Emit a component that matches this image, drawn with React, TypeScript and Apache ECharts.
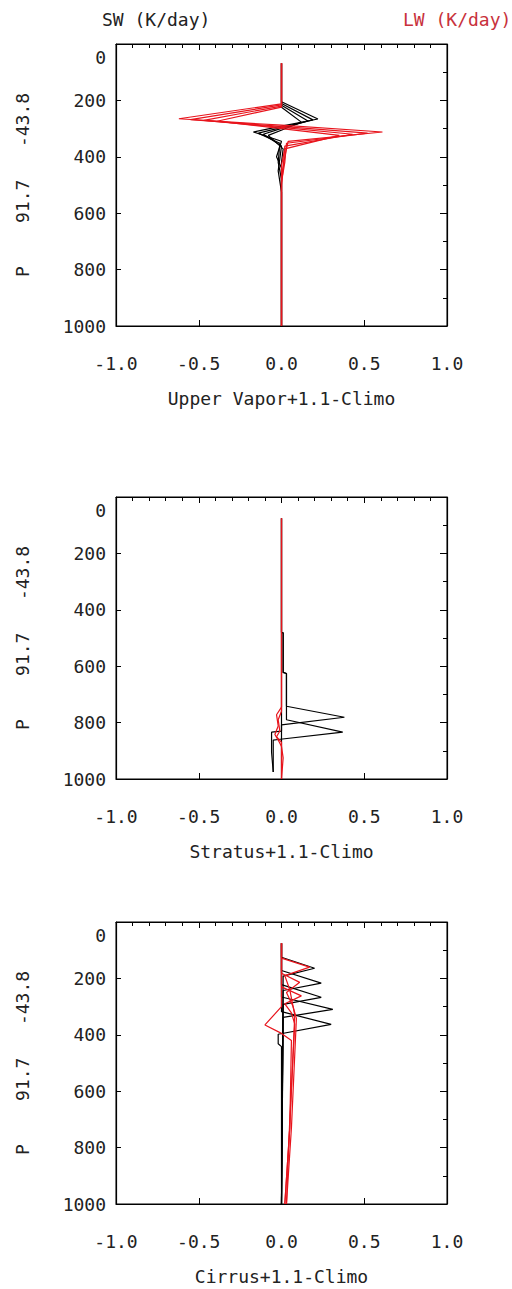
import React, { useEffect, useRef } from "react";
import * as echarts from "echarts";

// ---------- data ----------
const xTicks = [-1.0, -0.5, 0.0, 0.5, 1.0];
const pTicks = [0, 200, 400, 600, 800, 1000];
const panelNames = ["Upper Vapor+1.1-Climo", "Stratus+1.1-Climo", "Cirrus+1.1-Climo"];
const yName = "P    91.7   -43.8";

// Panel 1: Upper Vapor  — [heating rate K/day, pressure hPa]
const vaporSW: number[][][] = [
  [[0, 68], [0, 205], [0.22, 266], [0.0, 291], [-0.17, 312], [0.0, 345], [-0.03, 400], [0, 440], [0, 1000]],
  [[0, 68], [0, 211], [0.19, 269], [0.01, 295], [-0.14, 316], [-0.01, 352], [-0.02, 420], [0, 480], [0, 1000]],
  [[0, 68], [0, 217], [0.16, 273], [0.0, 299], [-0.11, 320], [0.0, 362], [-0.02, 450], [0, 525], [0, 1000]],
  [[0, 68], [0, 224], [0.12, 277], [0.01, 303], [-0.08, 324], [0.01, 372], [0, 420], [0, 1000]],
];
const vaporLW: number[][][] = [
  [[0, 68], [0, 212], [-0.62, 265], [0.0, 288], [0.61, 312], [0.04, 345], [0.02, 400], [0, 470], [0, 1000]],
  [[0, 68], [0, 216], [-0.55, 268], [0.0, 292], [0.52, 316], [0.03, 352], [0.02, 420], [0, 490], [0, 1000]],
  [[0, 68], [0, 220], [-0.47, 271], [0.0, 296], [0.43, 320], [0.02, 362], [0.01, 440], [0, 500], [0, 1000]],
  [[0, 68], [0, 224], [-0.39, 274], [0.0, 300], [0.35, 324], [0.02, 372], [0, 430], [0, 1000]],
];

// Panel 2: Stratus
const stratusSW: number[][][] = [
  [[0, 75], [0, 480], [0.01, 482], [0.01, 622], [0.03, 626], [0.03, 742], [0.38, 781], [0.0, 808], [0, 1000]],
  [[0, 75], [0, 480], [0.01, 482], [0.01, 622], [0.03, 626], [0.03, 790], [0.37, 834], [-0.02, 860], [-0.05, 862], [-0.05, 975]],
  [[0, 75], [0, 830], [-0.06, 834], [-0.06, 905], [-0.05, 975]],
];
const stratusLW: number[][][] = [
  [[0, 75], [0, 745], [-0.03, 772], [-0.02, 812], [-0.04, 842], [-0.02, 862], [0.0, 885], [0.01, 925], [0, 1000]],
  [[0, 75], [0, 760], [-0.02, 790], [-0.01, 830], [-0.03, 850], [0.0, 870], [0, 1000]],
];

// Panel 3: Cirrus
const cirrusSW: number[][][] = [
  [[0, 75], [0, 125], [0.2, 164], [0.01, 192], [0, 1000]],
  [[0, 75], [0, 172], [0.24, 217], [0.01, 243], [0, 1000]],
  [[0, 75], [0, 222], [0.24, 267], [0.01, 292], [0, 1000]],
  [[0, 75], [0, 266], [0.31, 310], [0.01, 338], [0, 1000]],
  [[0, 75], [0, 318], [0.3, 363], [-0.02, 398], [-0.02, 432], [0, 442], [0, 1000]],
];
const cirrusLW: number[][][] = [
  [[0, 75], [0, 128], [0.17, 160], [0.02, 190], [0.05, 240], [0.08, 330], [0.05, 730], [0.02, 1000]],
  [[0, 75], [0, 182], [0.11, 214], [0.03, 250], [0.07, 300], [0.09, 342], [0.06, 730], [0.03, 1000]],
  [[0, 75], [0, 230], [0.12, 262], [0.02, 290], [0.06, 322], [0.08, 362], [0.05, 700], [0.03, 1000]],
  [[0, 75], [0, 300], [-0.1, 365], [0.0, 395], [0.06, 420], [0.05, 730], [0.02, 1000]],
];

const panelsSW = [vaporSW, stratusSW, cirrusSW];
const panelsLW = [vaporLW, stratusLW, cirrusLW];

// ---------- styling ----------
const FONT = "DejaVu Sans Mono";
const RED = "#e8141c";
const gridTops = [44, 497, 922];
const gridH = 282;

export default function App() {
  const ref = useRef<HTMLDivElement>(null);
  useEffect(() => {
    document.body.style.margin = "0";
    const chart = echarts.init(ref.current!, null, { renderer: "svg" });
    const grids: any[] = [];
    const xAxes: any[] = [];
    const yAxes: any[] = [];
    const series: any[] = [];
    const lab = { fontFamily: FONT, fontSize: 18, color: "#222" };
    gridTops.forEach((top, i) => {
      grids.push({ left: 116, width: 331, top, height: gridH, show: true, borderColor: "#000", borderWidth: 1, backgroundColor: "transparent" });
      const base = {
        gridIndex: i, type: "value", min: xTicks[0], max: xTicks[xTicks.length - 1], interval: 0.5,
        splitLine: { show: false }, axisLine: { show: true, onZero: false, lineStyle: { color: "#000", width: 1.2 } },
      };
      xAxes.push({
        ...base, position: "bottom",
        axisTick: { show: true, inside: true, length: 6, lineStyle: { color: "#000" } },
        axisLabel: { ...lab, margin: 28, formatter: (v: number) => v.toFixed(1) },
        name: panelNames[i], nameLocation: "middle", nameGap: 63,
        nameTextStyle: { ...lab },
      });
      xAxes.push({
        ...base, position: "top",
        axisTick: { show: true, inside: true, length: 6, lineStyle: { color: "#000" } },
        minorTick: { show: true, splitNumber: 5, length: 4, lineStyle: { color: "#000" } },
        axisLabel: { show: false },
      });
      const ybase = {
        gridIndex: i, type: "value", inverse: true, min: pTicks[0], max: pTicks[pTicks.length - 1], interval: 200,
        splitLine: { show: false }, axisLine: { show: true, onZero: false, lineStyle: { color: "#000", width: 1.2 } },
      };
      yAxes.push({
        ...ybase, position: "left",
        axisTick: { show: true, inside: true, length: 5, lineStyle: { color: "#000" } },
        axisLabel: {
          ...lab, margin: 10,
          formatter: (v: number) => (v === 0 ? "{t|0}" : String(v)),
          rich: { t: { ...lab, padding: [26, 0, 0, 0] } },
        },
        name: yName, nameLocation: "middle", nameRotate: 90, nameGap: 85,
        nameTextStyle: { ...lab },
      });
      yAxes.push({
        ...ybase, position: "right",
        axisTick: { show: true, inside: true, length: 7, lineStyle: { color: "#000" } },
        minorTick: { show: true, splitNumber: 2, length: 4, lineStyle: { color: "#000" } },
        axisLabel: { show: false },
      });
      panelsSW[i].forEach((d) => {
        series.push({
          type: "line", name: "SW", xAxisIndex: i * 2, yAxisIndex: i * 2, data: d,
          symbol: "none", lineStyle: { color: "#000", width: 1.2 }, z: 2,
        });
      });
      panelsLW[i].forEach((d) => {
        series.push({
          type: "line", name: "LW", xAxisIndex: i * 2, yAxisIndex: i * 2, data: d,
          symbol: "none", lineStyle: { color: RED, width: 1.2 }, z: 3,
        });
      });
    });
    chart.setOption({
      animation: false,
      backgroundColor: "#fff",
      title: [
        { text: "SW (K/day)", left: 97, top: 5, textStyle: { ...lab, fontWeight: "normal", color: "#222" } },
        { text: "LW (K/day)", left: 398, top: 5, textStyle: { ...lab, fontWeight: "normal", color: "#c8323c" } },
      ],
      grid: grids,
      xAxis: xAxes,
      yAxis: yAxes,
      series,
    });
    return () => chart.dispose();
  }, []);
  return <div ref={ref} style={{ width: 512, height: 1289 }} />;
}
